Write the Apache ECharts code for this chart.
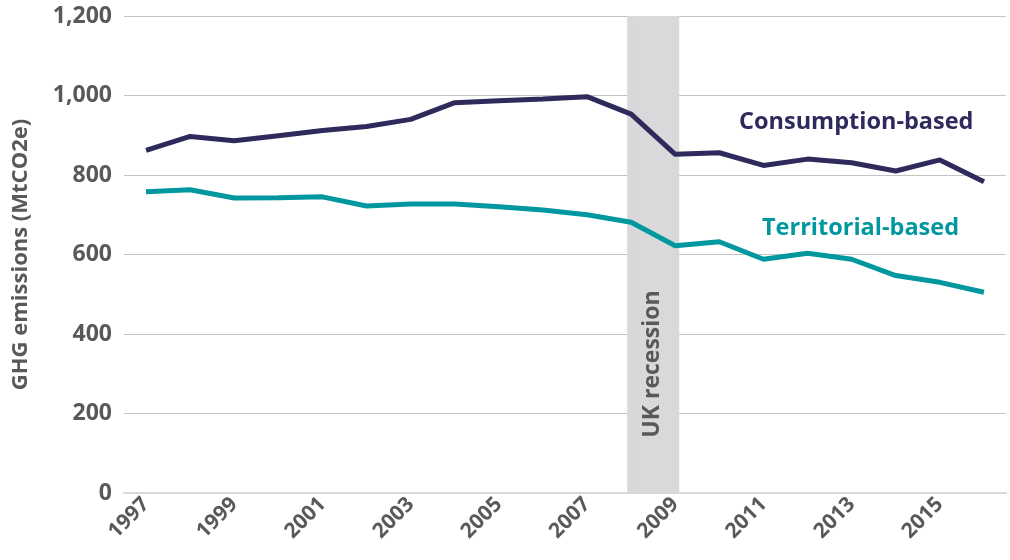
<!DOCTYPE html>
<html>
<head>
<meta charset="utf-8">
<script src="https://cdn.jsdelivr.net/npm/echarts@6/dist/echarts.min.js"></script>
<style>
  html, body { margin: 0; padding: 0; background: #fff; }
  #main { width: 1010px; height: 560px; }
</style>
</head>
<body>
<div id="main"></div>
<script>
// years and emissions (MtCO2e)
var years = ['1997', '1998', '1999', '2000', '2001', '2002', '2003', '2004', '2005', '2006',
             '2007', '2008', '2009', '2010', '2011', '2012', '2013', '2014', '2015', '2016'];
var consumption = [862, 897, 886, 899, 912, 922, 940, 982, 987, 991,
                   997, 953, 852, 856, 824, 840, 831, 810, 838, 783];
var territorial = [758, 763, 742, 743, 745, 722, 727, 727, 720, 712,
                   700, 681, 622, 632, 588, 603, 588, 547, 530, 505];
var recession = ['2008', '2009'];

var FONT = '"Open Sans", "Noto Sans", sans-serif';
var GREY = '#595959';
var NAVY = '#2e2a5c';
var TEAL = '#00979f';

var myChart = echarts.init(document.getElementById('main'));
var option = {
    animation: false,
    grid: { left: 124, right: 4, top: 16, bottom: 67 },
    xAxis: {
        type: 'category',
        data: years,
        boundaryGap: true,
        axisLine: { show: true, lineStyle: { color: '#d9d9d9', width: 2 } },
        axisTick: { show: false },
        axisLabel: {
            interval: 1,
            rotate: 45,
            margin: 8,
            color: GREY,
            fontFamily: FONT,
            fontWeight: 'bold',
            fontSize: 21
        }
    },
    yAxis: {
        type: 'value',
        min: 0,
        max: 1200,
        interval: 200,
        name: 'GHG emissions (MtCO2e)',
        nameLocation: 'middle',
        nameGap: 92,
        nameTextStyle: { color: GREY, fontFamily: FONT, fontWeight: 'bold', fontSize: 22 },
        axisLine: { show: false },
        axisTick: { show: false },
        splitLine: { lineStyle: { color: '#c4c4c4', width: 1 } },
        axisLabel: {
            margin: 12,
            color: GREY,
            fontFamily: FONT,
            fontWeight: 'bold',
            fontSize: 23,
            formatter: function (v) { return v.toLocaleString('en-US'); }
        }
    },
    series: [
        {
            name: 'Consumption-based',
            type: 'line',
            data: consumption,
            symbol: 'none',
            lineStyle: { color: NAVY, width: 5 },
            z: 3,
            markArea: {
                silent: true,
                itemStyle: { color: '#d9d8da', borderColor: '#d9d8da', borderWidth: 8 },
                data: [[{ xAxis: recession[0], yAxis: 12 }, { xAxis: recession[1], yAxis: 1190 }]]
            }
        },
        {
            name: 'Territorial-based',
            type: 'line',
            data: territorial,
            symbol: 'none',
            lineStyle: { color: TEAL, width: 5 },
            z: 3
        }
    ],
    graphic: [
        {
            type: 'text', left: 739, top: 110, z: 10,
            style: { text: 'Consumption-based', fill: NAVY, font: 'bold 23.5px ' + FONT }
        },
        {
            type: 'text', left: 762, top: 216, z: 10,
            style: { text: 'Territorial-based', fill: TEAL, font: 'bold 23.5px ' + FONT }
        },
        {
            type: 'text', x: 652, y: 364, rotation: Math.PI / 2, z: 10,
            style: { text: 'UK recession', fill: GREY, font: 'bold 23px ' + FONT,
                     align: 'center', verticalAlign: 'middle' }
        }
    ]
};
myChart.setOption(option);
</script>
</body>
</html>
